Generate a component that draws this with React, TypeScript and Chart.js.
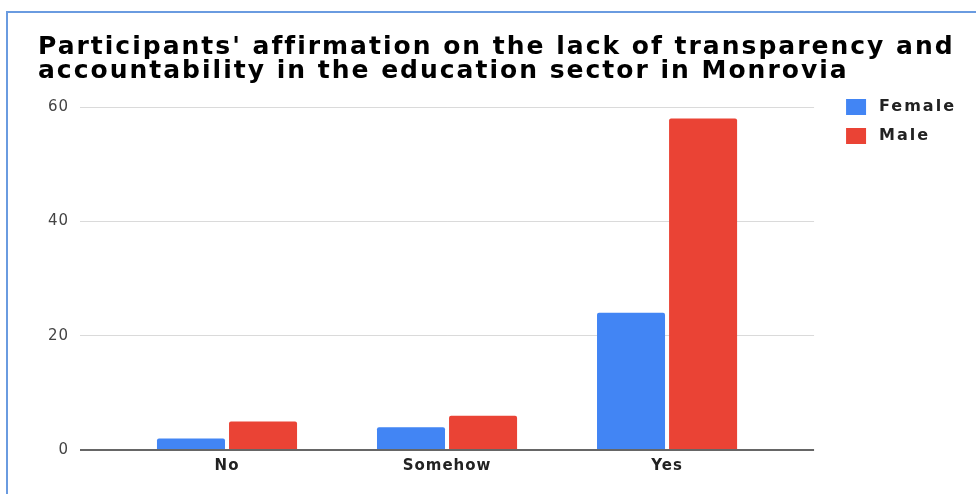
import React, { useEffect, useRef } from 'react';
import { Chart, registerables } from 'chart.js';

Chart.register(...registerables);

const categories = ['No', 'Somehow', 'Yes'];
const seriesNames = ['Female', 'Male'];
const femaleValues = [2, 4, 24];
const maleValues = [5, 6, 58];
const seriesColors = ['#4285F4', '#EA4335'];
const titleLines = [
  "Participants' affirmation on the lack of transparency and",
  'accountability in the education sector in Monrovia',
];
const yMin = 0;
const yMax = 60;
const yStep = 20;

const FONT = 'DejaVu Sans';

const gridColor = (c: any) => (c.tick && c.tick.value === 0 ? '#666666' : '#dadada');
const gridWidth = (c: any) => (c.tick && c.tick.value === 0 ? 2 : 1);

const spacingPlugin = {
  id: 'letterSpacingPlugin',
  beforeUpdate(chart: any) {
    chart.ctx.letterSpacing = '2px';
  },
  beforeDraw(chart: any) {
    chart.ctx.letterSpacing = '2px';
  },
  beforeDatasetsDraw(chart: any) {
    chart.ctx.letterSpacing = '1px';
  },
};

export default function App() {
  const canvasRef = useRef<HTMLCanvasElement | null>(null);

  useEffect(() => {
    if (!canvasRef.current) return;
    const chart = new Chart(canvasRef.current, {
      type: 'bar',
      data: {
        labels: categories,
        datasets: [
          {
            label: seriesNames[0],
            data: femaleValues,
            backgroundColor: seriesColors[0],
            borderRadius: 2,
            barPercentage: 0.944,
            categoryPercentage: 0.655,
            yAxisID: 'y',
          },
          {
            label: seriesNames[1],
            data: maleValues,
            backgroundColor: seriesColors[1],
            borderRadius: 2,
            barPercentage: 0.944,
            categoryPercentage: 0.655,
            yAxisID: 'y',
          },
        ],
      },
      options: {
        responsive: false,
        animation: false,
        devicePixelRatio: 1,
        layout: { padding: { left: 38, right: 10, top: 0, bottom: 0 } },
        plugins: {
          title: {
            display: true,
            text: titleLines,
            align: 'start',
            color: '#000000',
            font: { family: FONT, size: 25, weight: 'bold', lineHeight: 0.96 },
            padding: { top: 35, bottom: 24 },
          },
          legend: {
            position: 'right',
            align: 'start',
            title: {
              display: true,
              text: '',
              font: { size: 10, lineHeight: 1 },
              padding: { top: 81, bottom: 0 },
            },
            labels: {
              boxWidth: 30,
              boxHeight: 26,
              padding: 3,
              color: '#222222',
              font: { family: FONT, size: 16, weight: 'bold' },
              generateLabels: (ch: any) =>
                ch.data.datasets.map((ds: any, i: number) => ({
                  text: ds.label,
                  fillStyle: ds.backgroundColor,
                  strokeStyle: '#ffffff',
                  lineWidth: 10,
                  fontColor: '#222222',
                  hidden: false,
                  datasetIndex: i,
                  borderRadius: 3,
                })),
            },
          },
          tooltip: { enabled: false },
        },
        scales: {
          x: {
            offset: true,
            grid: { display: false, drawTicks: false },
            border: { display: false },
            ticks: {
              padding: 7,
              color: '#222222',
              font: { family: FONT, size: 15, weight: 'bold' },
              z: 1,
            },
            afterFit: (s: any) => {
              s.height = 44;
            },
          },
          y: {
            position: 'left',
            min: yMin,
            max: yMax,
            ticks: {
              stepSize: yStep,
              padding: 11,
              color: '#444444',
              font: { family: FONT, size: 15 },
              z: 1,
            },
            grid: { color: gridColor, lineWidth: gridWidth, tickLength: 37 },
            border: { display: false },
            afterFit: (s: any) => {
              s.width = 79;
            },
          },
          y2: {
            position: 'right',
            min: yMin,
            max: yMax,
            ticks: { stepSize: yStep, display: false },
            grid: { color: gridColor, lineWidth: gridWidth, tickLength: 37, drawOnChartArea: false },
            border: { display: false },
            afterFit: (s: any) => {
              s.width = 61;
            },
          },
        },
      } as any,
      plugins: [spacingPlugin],
    });
    return () => chart.destroy();
  }, []);

  return (
    <div
      style={{
        position: 'absolute',
        left: 0,
        top: 0,
        width: 976,
        height: 494,
        overflow: 'hidden',
        background: '#ffffff',
      }}
    >
      <div
        style={{
          position: 'absolute',
          left: 6,
          top: 11,
          width: 1200,
          height: 800,
          borderLeft: '2px solid #6a9be0',
          borderTop: '2px solid #6a9be0',
        }}
      />
      <canvas
        ref={canvasRef}
        width={976}
        height={494}
        style={{ position: 'absolute', left: 0, top: 0, display: 'block' }}
      />
    </div>
  );
}
